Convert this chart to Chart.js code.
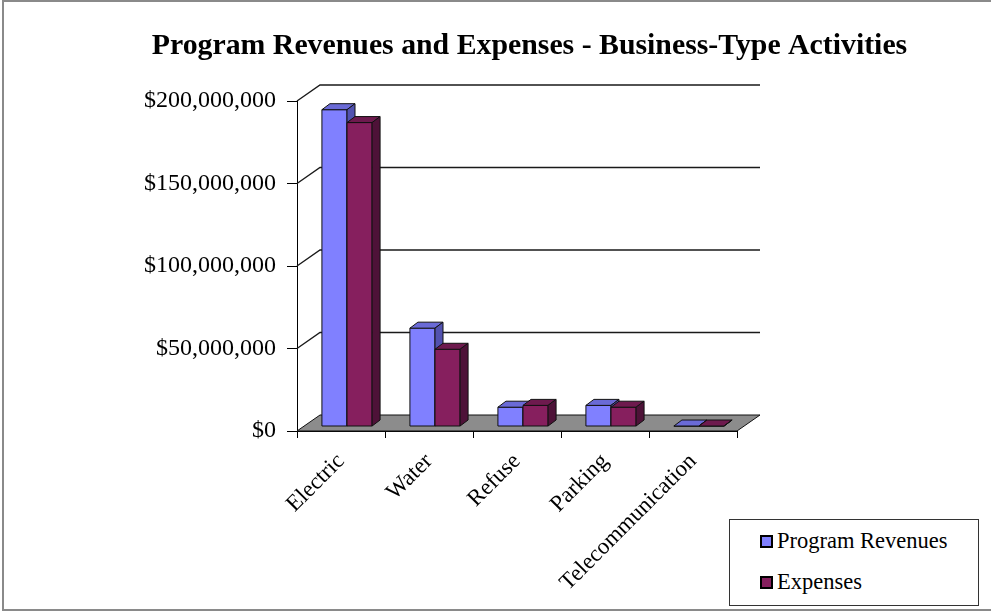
<!DOCTYPE html>
<html>
<head>
<meta charset="utf-8">
<script src="https://cdn.jsdelivr.net/npm/chart.js@4.4.1/dist/chart.umd.min.js"></script>
<style>
html,body{margin:0;padding:0;background:#fff;overflow:hidden;}
#wrap{position:relative;width:991px;height:615px;}
#frame{position:absolute;left:2px;top:0;width:1000px;height:611px;border:2px solid #8a8a8a;box-sizing:border-box;}
#c{position:absolute;left:0;top:0;}
#legend{position:absolute;left:729px;top:519px;width:250px;height:87px;border:1px solid #333;box-sizing:border-box;background:#fff;
  font-family:"Liberation Serif","Times New Roman",serif;font-size:22.5px;color:#000;}
#legend .item{position:absolute;left:30px;display:flex;align-items:center;white-space:nowrap;}
#legend .sw{width:9px;height:9px;border:2px solid #000;margin-right:4px;}
</style>
</head>
<body>
<div id="wrap">
  <div id="frame"></div>
  <canvas id="c" width="991" height="615"></canvas>
  <div id="legend"></div>
</div>
<script>
// ---- data ----
const TITLE = 'Program Revenues and Expenses - Business-Type Activities';
const categories = ['Electric', 'Water', 'Refuse', 'Parking', 'Telecommunication'];
const seriesNames = ['Program Revenues', 'Expenses'];
const programRevenues = [192000000, 59600000, 11700000, 12800000, 300000];
const expenses = [184200000, 46800000, 12800000, 11700000, 300000];
const yTicks = [0, 50000000, 100000000, 150000000, 200000000];

// ---- styles ----
const FRONT = ['#8080ff', '#861f5e'];
const TOP = ['#6a6ad6', '#6e1a4e'];
const SIDE = ['#5252b0', '#4e1238'];
const SERIF = '"Liberation Serif","Times New Roman",serif';
const WALL = {dx: 23, dy: -16};   // full depth of floor / walls
const BAR_OFF = {dx: 6, dy: -4.5}; // bar front plane offset
const BAR_D = {dx: 8, dy: -6};     // bar depth

function poly(ctx, pts, fill, stroke) {
  ctx.beginPath();
  ctx.moveTo(pts[0][0], pts[0][1]);
  for (let k = 1; k < pts.length; k++) ctx.lineTo(pts[k][0], pts[k][1]);
  ctx.closePath();
  if (fill) { ctx.fillStyle = fill; ctx.fill(); }
  if (stroke) { ctx.strokeStyle = stroke; ctx.stroke(); }
}

const threeD = {
  id: 'threeD',
  beforeDatasetsDraw(chart) {
    const {ctx, chartArea: a, scales: {x, y}} = chart;
    ctx.save();
    ctx.lineWidth = 1;
    const y0 = y.getPixelForValue(0);
    // floor
    poly(ctx, [[a.left, y0], [a.right, y0], [a.right + WALL.dx, y0 + WALL.dy], [a.left + WALL.dx, y0 + WALL.dy]], '#8c8c8c', '#111');
    // side wall + back wall gridlines
    ctx.strokeStyle = '#1a1a1a';
    ctx.lineWidth = 1.4;
    y.ticks.forEach(t => {
      if (t.value === 0) return;
      const py = y.getPixelForValue(t.value);
      ctx.beginPath();
      ctx.moveTo(a.left, py);
      ctx.lineTo(a.left + WALL.dx, py + WALL.dy);
      ctx.lineTo(a.right + WALL.dx, py + WALL.dy);
      ctx.stroke();
    });
    // bars
    ctx.lineWidth = 1;
    const metas = chart.data.datasets.map((d, i) => chart.getDatasetMeta(i));
    for (let j = 0; j < chart.data.labels.length; j++) {
      for (let i = 0; i < metas.length; i++) {
        const el = metas[i].data[j];
        const p = el.getProps(['x', 'y', 'base', 'width'], true);
        const l = p.x - p.width / 2 + BAR_OFF.dx, r = p.x + p.width / 2 + BAR_OFF.dx;
        const t = p.y + BAR_OFF.dy, b = p.base + BAR_OFF.dy;
        const ds = chart.data.datasets[i];
        poly(ctx, [[l, t], [r, t], [r, b], [l, b]], ds.backgroundColor, '#111');
        poly(ctx, [[l, t], [r, t], [r + BAR_D.dx, t + BAR_D.dy], [l + BAR_D.dx, t + BAR_D.dy]], ds.topColor, '#111');
        poly(ctx, [[r, t], [r + BAR_D.dx, t + BAR_D.dy], [r + BAR_D.dx, b + BAR_D.dy], [r, b]], ds.sideColor, '#111');
      }
    }
    ctx.restore();
    return false;
  },
  afterDraw(chart) {
    const {ctx, chartArea: a} = chart;
    ctx.save();
    ctx.font = 'bold 29.8px ' + SERIF;
    ctx.fillStyle = '#000';
    ctx.textAlign = 'center';
    ctx.textBaseline = 'middle';
    ctx.fillText(TITLE, (a.left + a.right + WALL.dx) / 2 + 1, 46);
    ctx.restore();
  }
};

const chart = new Chart(document.getElementById('c'), {
  type: 'bar',
  data: {
    labels: categories,
    datasets: [
      {label: seriesNames[0], data: programRevenues, backgroundColor: FRONT[0], topColor: TOP[0], sideColor: SIDE[0]},
      {label: seriesNames[1], data: expenses, backgroundColor: FRONT[1], topColor: TOP[1], sideColor: SIDE[1]}
    ]
  },
  options: {
    responsive: false,
    animation: false,
    events: [],
    layout: {padding: {left: 0, right: 254, top: 101, bottom: 0}},
    categoryPercentage: 0.57,
    barPercentage: 1.0,
    plugins: {legend: {display: false}, title: {display: false}, tooltip: {enabled: false}},
    scales: {
      x: {
        grid: {drawOnChartArea: false, drawTicks: true, tickLength: 7, color: '#000', offset: true},
        border: {display: true, color: '#000'},
        ticks: {autoSkip: false, minRotation: 45, maxRotation: 45, color: '#000', padding: 10,
          font: {family: SERIF, size: 23}},
        afterFit(s) { s.height = 184; }
      },
      y: {
        min: 0, max: 200000000,
        afterBuildTicks(s) { s.ticks = yTicks.map(v => ({value: v})); },
        grid: {drawOnChartArea: false, drawTicks: true, tickLength: 10, color: '#000'},
        border: {display: true, color: '#000'},
        ticks: {color: '#000', padding: 11, font: {family: SERIF, size: 24},
          callback: v => '$' + Number(v).toLocaleString('en-US')},
        afterFit(s) { s.width = 297; }
      }
    }
  },
  plugins: [threeD]
});

// HTML legend from datasets
const lg = document.getElementById('legend');
chart.data.datasets.forEach((d, i) => {
  const it = document.createElement('div');
  it.className = 'item';
  it.style.top = (i === 0 ? 8 : 49) + 'px';
  const sw = document.createElement('span');
  sw.className = 'sw';
  sw.style.background = d.backgroundColor;
  const tx = document.createElement('span');
  tx.textContent = d.label;
  it.appendChild(sw); it.appendChild(tx);
  lg.appendChild(it);
});
</script>
</body>
</html>
